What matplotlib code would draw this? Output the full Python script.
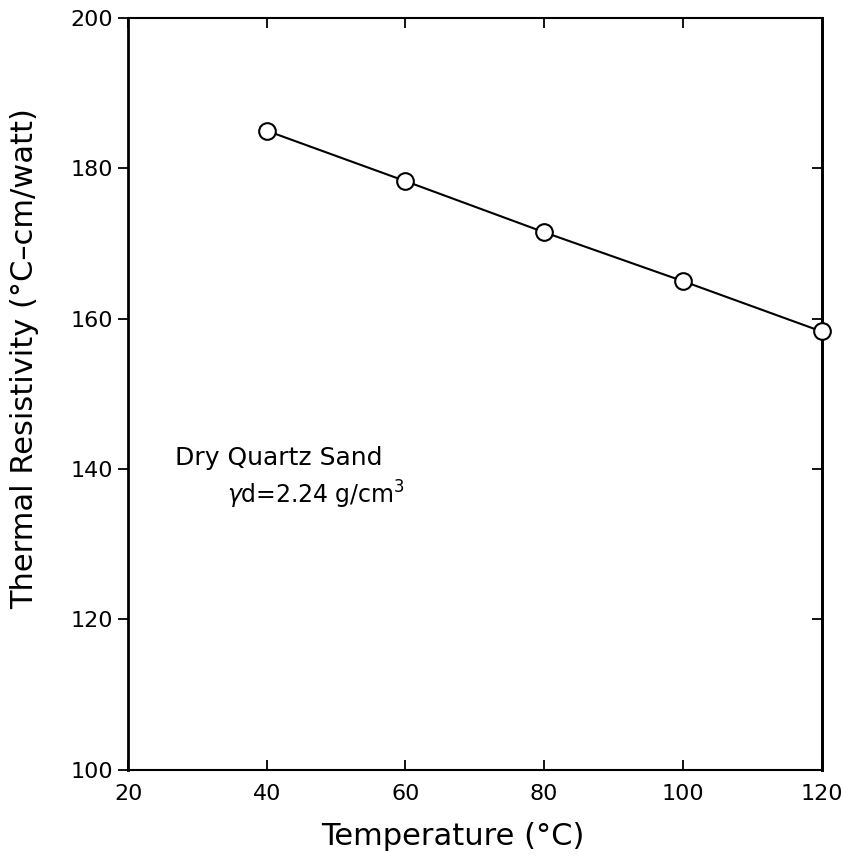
import matplotlib.pyplot as plt

# values
temperature = [40, 60, 80, 100, 120]
resistivity = [185.0, 178.3, 171.5, 165.0, 158.3]

x_ticks = [20, 40, 60, 80, 100, 120]
y_ticks = [100, 120, 140, 160, 180, 200]

fig = plt.figure(figsize=(8.54, 8.59), dpi=100)
ax = fig.add_axes([0.150, 0.104, 0.812, 0.875])

ax.plot(temperature, resistivity, color='black', linewidth=1.5,
        marker='o', markersize=12, markerfacecolor='white',
        markeredgecolor='black', markeredgewidth=1.5, clip_on=False, zorder=3)

ax.set_xlim(20, 120)
ax.set_ylim(100, 200)
ax.set_xticks(x_ticks)
ax.set_yticks(y_ticks)
ax.tick_params(axis='both', labelsize=16, length=7, width=1.3)
ax.tick_params(axis='x', direction='in', top=True, pad=10)
ax.tick_params(axis='y', direction='out', pad=4)
for side in ['left', 'right', 'top', 'bottom']:
    ax.spines[side].set_linewidth(2.0 if side in ('left', 'right') else 1.5)

# inward ticks on the right edge, no labels
right = ax.secondary_yaxis('right')
right.set_yticks(y_ticks)
right.tick_params(direction='in', length=7, width=1.3, labelright=False)
right.spines['right'].set_linewidth(2.0)

ax.set_xlabel('Temperature (\u00b0C)', fontsize=22)
ax.xaxis.set_label_coords(0.468, -0.070)
ax.set_ylabel('Thermal Resistivity (\u00b0C\u2013cm/watt)', fontsize=22)
ax.yaxis.set_label_coords(-0.128, 0.547)

ax.text(26.8, 141.5, 'Dry Quartz Sand', fontsize=18, ha='left', va='center')
ax.text(34.2, 136.5, r'$\gamma$d=2.24 g/cm$^3$', fontsize=17, ha='left', va='center')

fig.savefig('out.png', dpi=100)
